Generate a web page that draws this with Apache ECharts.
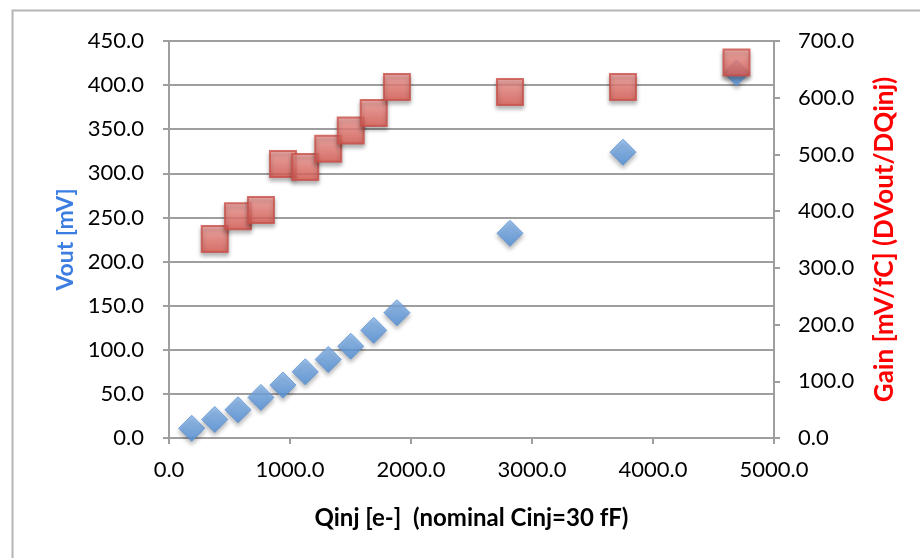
<!DOCTYPE html>
<html>
<head>
<meta charset="utf-8">
<script src="https://cdn.jsdelivr.net/npm/echarts@6/dist/echarts.min.js"></script>
<style>html,body{margin:0;padding:0;background:#fff}#c{width:920px;height:558px}</style>
</head>
<body>
<div id="c"></div>
<script>
const qinj = [188, 378, 570, 760, 942, 1126, 1316, 1502, 1692, 1884, 2818, 3752, 4690];
const vout = [11, 21, 32, 46, 60, 75, 89, 104, 122, 142, 232, 324, 414];
const gainQ = [378, 570, 760, 942, 1126, 1316, 1502, 1692, 1884, 2818, 3752, 4690];
const gain = [351, 391, 402, 483, 478, 510, 542, 573, 619, 610, 619, 662];
const xTitle = 'Qinj [e-]  (nominal Cinj=30 fF)';
const yLeftTitle = 'Vout [mV]';
const yRightTitle = 'Gain [mV/fC] (DVout/DQinj)';

const FONT = 'Lato';
const grey = '#9e9e9e';
const chart = echarts.init(document.getElementById('c'));
const fmt = v => v.toFixed(1);
chart.setOption({
  animation: false,
  backgroundColor: '#fff',
  graphic: [{
    type: 'rect', left: 10, top: 8, silent: true, z: -10,
    shape: {width: 930, height: 580},
    style: {fill: 'none', stroke: '#b5b5b5', lineWidth: 2}
  }],
  grid: {left: 169, right: 146, top: 41, bottom: 120, containLabel: false},
  xAxis: {
    type: 'value', min: 0, max: 5000, interval: 1000,
    name: xTitle, nameLocation: 'middle', nameGap: 68,
    nameTextStyle: {fontFamily: FONT, fontWeight: 'bold', fontSize: 24, color: '#000'},
    axisLine: {lineStyle: {color: grey, width: 2}},
    axisTick: {show: true, length: 6, lineStyle: {color: grey, width: 2}},
    axisLabel: {formatter: fmt, fontFamily: FONT, fontSize: 22, color: '#000', margin: 21},
    splitLine: {show: false}
  },
  yAxis: [{
    type: 'value', min: 0, max: 450, interval: 50, position: 'left',
    name: yLeftTitle, nameLocation: 'middle', nameGap: 92, nameRotate: 90,
    nameTextStyle: {fontFamily: FONT, fontWeight: 'bold', fontSize: 23, color: '#3b7de0'},
    axisLine: {show: true, lineStyle: {color: grey, width: 2}},
    axisTick: {show: true, length: 6, lineStyle: {color: grey, width: 2}},
    axisLabel: {formatter: fmt, fontFamily: FONT, fontSize: 22, color: '#000', margin: 25},
    splitLine: {show: true, lineStyle: {color: grey, width: 2}}
  }, {
    type: 'value', min: 0, max: 700, interval: 100, position: 'right',
    name: yRightTitle, nameLocation: 'middle', nameGap: 98, nameRotate: 90,
    nameTextStyle: {fontFamily: FONT, fontWeight: 'bold', fontSize: 26, color: '#ff0000'},
    axisLine: {show: true, lineStyle: {color: grey, width: 2}},
    axisTick: {show: true, length: 6, lineStyle: {color: grey, width: 2}},
    axisLabel: {formatter: fmt, fontFamily: FONT, fontSize: 22, color: '#000', margin: 24},
    splitLine: {show: false}
  }],
  series: [{
    type: 'scatter', yAxisIndex: 0, symbol: 'diamond', symbolSize: 26,
    data: qinj.map((q, i) => [q, vout[i]]),
    itemStyle: {
      color: new echarts.graphic.LinearGradient(0, 0, 0, 1, [{offset: 0, color: '#8ab8ee'}, {offset: 1, color: '#4f8fd8'}]),
      borderColor: '#5d93d6', borderWidth: 1,
      shadowBlur: 4, shadowOffsetY: 3, shadowColor: 'rgba(0,0,0,0.35)'
    },
    z: 2
  }, {
    type: 'scatter', yAxisIndex: 1, symbol: 'rect', symbolSize: 26,
    data: gainQ.map((q, i) => [q, gain[i]]),
    itemStyle: {
      color: new echarts.graphic.LinearGradient(0, 0, 0, 1, [{offset: 0, color: '#f5a09b'}, {offset: 1, color: '#dd5a52'}]),
      borderColor: '#c9504a', borderWidth: 2,
      shadowBlur: 4, shadowOffsetY: 3, shadowColor: 'rgba(0,0,0,0.35)'
    },
    z: 3
  }]
});
</script>
</body>
</html>
